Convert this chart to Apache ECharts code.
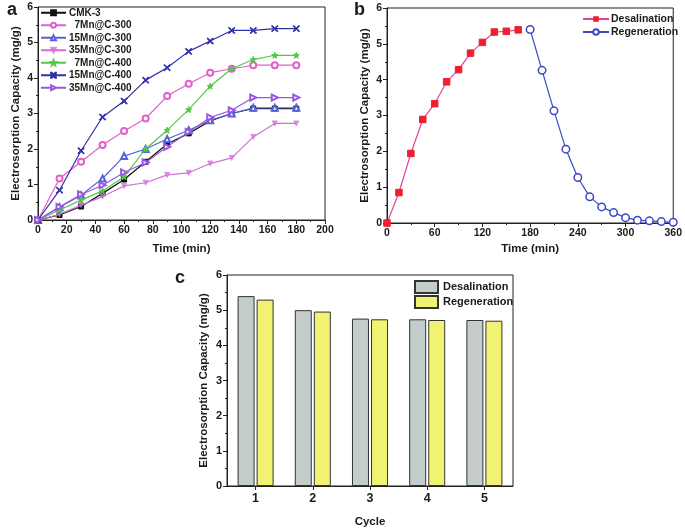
<!DOCTYPE html>
<html><head><meta charset="utf-8">
<script src="https://cdn.jsdelivr.net/npm/echarts@6/dist/echarts.min.js"></script>
<style>html,body{margin:0;padding:0;background:#fff}#c{width:685px;height:529px}</style>
</head><body><div id="c"></div>
<script>
// Panel a
const timeA = [0,15,30,45,60,75,90,105,120,135,150,165,180];
const cmk3     = [0,0.14,0.38,0.75,1.14,1.64,2.14,2.44,2.79,3.00,3.14,3.14,3.14];
const mn7c300  = [0,1.17,1.64,2.11,2.51,2.86,3.49,3.84,4.15,4.26,4.36,4.36,4.36];
const mn15c300 = [0,0.36,0.70,1.17,1.80,2.00,2.28,2.53,2.81,3.00,3.16,3.16,3.16];
const mn35c300 = [0,0.16,0.42,0.66,0.96,1.05,1.27,1.33,1.59,1.75,2.34,2.72,2.72];
const mn7c400  = [0,0.28,0.56,0.82,1.22,2.00,2.53,3.11,3.77,4.26,4.52,4.64,4.64];
const mn15c400 = [0,0.84,1.95,2.90,3.35,3.94,4.29,4.75,5.04,5.34,5.34,5.39,5.39];
const mn35c400 = [0,0.37,0.72,0.98,1.34,1.62,2.06,2.48,2.89,3.09,3.45,3.45,3.45];
const namesA = ['CMK-3','7Mn@C-300','15Mn@C-300','35Mn@C-300','7Mn@C-400','15Mn@C-400','35Mn@C-400'];
// Panel b
const timeDes = [0,15,30,45,60,75,90,105,120,135,150,165];
const desB = [0,0.85,1.94,2.89,3.33,3.94,4.28,4.74,5.04,5.33,5.35,5.39];
const timeReg = [180,195,210,225,240,255,270,285,300,315,330,345,360];
const regB = [5.40,4.26,3.13,2.06,1.27,0.73,0.45,0.29,0.15,0.08,0.06,0.04,0.02];
// Panel c
const cycles = ['1','2','3','4','5'];
const desC = [5.40,5.00,4.76,4.74,4.72];
const regC = [5.30,4.96,4.74,4.72,4.70];

const FONT = 'Liberation Sans, Arial, sans-serif';
const TXT = '#1a1a1a';
const pair = (xs, ys) => xs.map((x,i)=>[x, ys[i]]);

const starPath = 'path://M0,-10 L2.4,-3.3 L9.5,-3.1 L3.8,1.2 L5.9,8.1 L0,4 L-5.9,8.1 L-3.8,1.2 L-9.5,-3.1 L-2.4,-3.3 Z';
const xPath = 'path://M-10,-10 L-7.5,-10 L0,-2.5 L7.5,-10 L10,-10 L10,-7.5 L2.5,0 L10,7.5 L10,10 L7.5,10 L0,2.5 L-7.5,10 L-10,10 L-10,7.5 L-2.5,0 L-10,-7.5 Z';

function valAxis(gi, min, max, interval, name, gap, fs, extra) {
  return Object.assign({
    gridIndex: gi, type: 'value', min, max, interval,
    name, nameLocation: 'middle', nameGap: gap,
    nameTextStyle: {fontFamily: FONT, fontWeight: 'bold', fontSize: 11.5, color: TXT},
    axisLine: {show: true, lineStyle: {color: '#222', width: 1}},
    axisTick: {show: true, length: 4, lineStyle: {color: '#222'}},
    minorTick: {show: true, splitNumber: 2, length: 2, lineStyle: {color: '#222'}},
    splitLine: {show: false},
    axisLabel: {fontFamily: FONT, fontWeight: 'bold', fontSize: fs, color: TXT, margin: 5}
  }, extra || {});
}

const colorsA = ['#111111','#e060c8','#5563d8','#d070d8','#50c848','#3030a8','#9a58e0'];
const symbolsA = ['rect','emptyCircle','emptyTriangle','triangle',starPath,xPath,'emptyTriangle'];
const rotA = [0,0,0,180,0,0,-90];
const sizeA = [5,6,6,5,6,6,6];
const dataA = [cmk3,mn7c300,mn15c300,mn35c300,mn7c400,mn15c400,mn35c400];

const series = [];
namesA.forEach((n,i)=>{
  series.push({
    name: n, type: 'line', xAxisIndex: 0, yAxisIndex: 0,
    data: pair(timeA, dataA[i]),
    symbol: symbolsA[i], symbolSize: sizeA[i], symbolRotate: rotA[i],
    showAllSymbol: true,
    lineStyle: {color: colorsA[i], width: 1.2},
    itemStyle: {color: colorsA[i], borderColor: colorsA[i], borderWidth: 1, opacity: i===3?0.7:1},
    emphasis: {disabled: true}, z: 3 + i
  });
});
series.push({
  name: 'Desalination', type: 'line', xAxisIndex: 1, yAxisIndex: 1,
  data: pair(timeDes, desB), symbol: 'rect', symbolSize: 6.5,
  lineStyle: {color: '#e0449a', width: 1.2},
  itemStyle: {color: '#ee2030', borderColor: '#ee2030'}, emphasis: {disabled: true}, z: 5
});
series.push({
  name: 'Regeneration', type: 'line', xAxisIndex: 1, yAxisIndex: 1,
  data: pair(timeReg, regB), symbol: 'circle', symbolSize: 7.5,
  lineStyle: {color: '#3a48c8', width: 1.2},
  itemStyle: {color: '#ffffff', borderColor: '#3a48c8', borderWidth: 1.5}, emphasis: {disabled: true}, z: 4
});
series.push({
  name: 'Desalination ', type: 'bar', xAxisIndex: 2, yAxisIndex: 2,
  data: desC, barWidth: 17, barGap: '12%',
  itemStyle: {color: '#c4cccc', borderColor: '#333', borderWidth: 1}, emphasis: {disabled: true}
});
series.push({
  name: 'Regeneration ', type: 'bar', xAxisIndex: 2, yAxisIndex: 2,
  data: regC, barWidth: 17,
  itemStyle: {color: '#f2f272', borderColor: '#333', borderWidth: 1}, emphasis: {disabled: true}
});

const option = {
  animation: false,
  backgroundColor: '#fff',
  textStyle: {fontFamily: FONT},
  title: [
    {text: 'a', left: 2, top: -4, textStyle: {fontFamily: FONT, fontWeight: 'bold', fontSize: 18, color: TXT}},
    {text: 'b', left: 349, top: -4, textStyle: {fontFamily: FONT, fontWeight: 'bold', fontSize: 18, color: TXT}},
    {text: 'c', left: 170, top: 264, textStyle: {fontFamily: FONT, fontWeight: 'bold', fontSize: 18, color: TXT}}
  ],
  grid: [
    {left: 38, top: 7, width: 287, height: 213, show: true, borderColor: '#222', borderWidth: 1},
    {left: 387, top: 8, width: 288, height: 215, show: true, borderColor: '#222', borderWidth: 1},
    {left: 227, top: 275, width: 286, height: 213, show: true, borderColor: '#222', borderWidth: 1}
  ],
  xAxis: [
    valAxis(0, 0, 200, 20, 'Time (min)', 23, 10.5),
    valAxis(1, 0, 360, 60, 'Time (min)', 20, 10.5),
    {gridIndex: 2, type: 'category', data: cycles, boundaryGap: true,
     name: 'Cycle', nameLocation: 'middle', nameGap: 30,
     nameTextStyle: {fontFamily: FONT, fontWeight: 'bold', fontSize: 11.5, color: TXT},
     axisLine: {lineStyle: {color: '#222'}},
     axisTick: {show: true, alignWithLabel: true, length: 4, lineStyle: {color: '#222'}},
     axisLabel: {fontFamily: FONT, fontWeight: 'bold', fontSize: 12.5, color: TXT, margin: 6}}
  ],
  yAxis: [
    valAxis(0, 0, 6, 1, 'Electrosorption Capacity (mg/g)', 16, 10.5),
    valAxis(1, 0, 6, 1, 'Electrosorption Capacity (mg/g)', 16, 10.5),
    valAxis(2, 0, 6, 1, 'Electrosorption Capacity (mg/g)', 17, 11)
  ],
  legend: [
    {data: namesA, left: 40, top: 7, padding: 0, orient: 'vertical', itemWidth: 25, itemHeight: 6, itemGap: 1,
     formatter: n => n.startsWith('7') ? '  ' + n : n,
     textStyle: {fontFamily: FONT, fontWeight: 'bold', fontSize: 10, lineHeight: 11.5, color: TXT, padding: [0,0,0,-2]}},
    {data: ['Desalination','Regeneration'], left: 582, top: 13, padding: 0, orient: 'vertical', itemWidth: 26, itemHeight: 7, itemGap: 1,
     textStyle: {fontFamily: FONT, fontWeight: 'bold', fontSize: 10.5, lineHeight: 12, color: TXT, padding: [0,0,0,-3]}},
    {data: [{name:'Desalination ', icon:'rect'}, {name:'Regeneration ', icon:'rect'}], left: 414, top: 280, padding: 0, orient: 'vertical',
     itemWidth: 23, itemHeight: 12, itemGap: 1,
     textStyle: {fontFamily: FONT, fontWeight: 'bold', fontSize: 11, color: TXT}}
  ],
  series
};
const chart = echarts.init(document.getElementById('c'), null, {renderer: 'canvas'});
chart.setOption(option);
</script></body></html>
